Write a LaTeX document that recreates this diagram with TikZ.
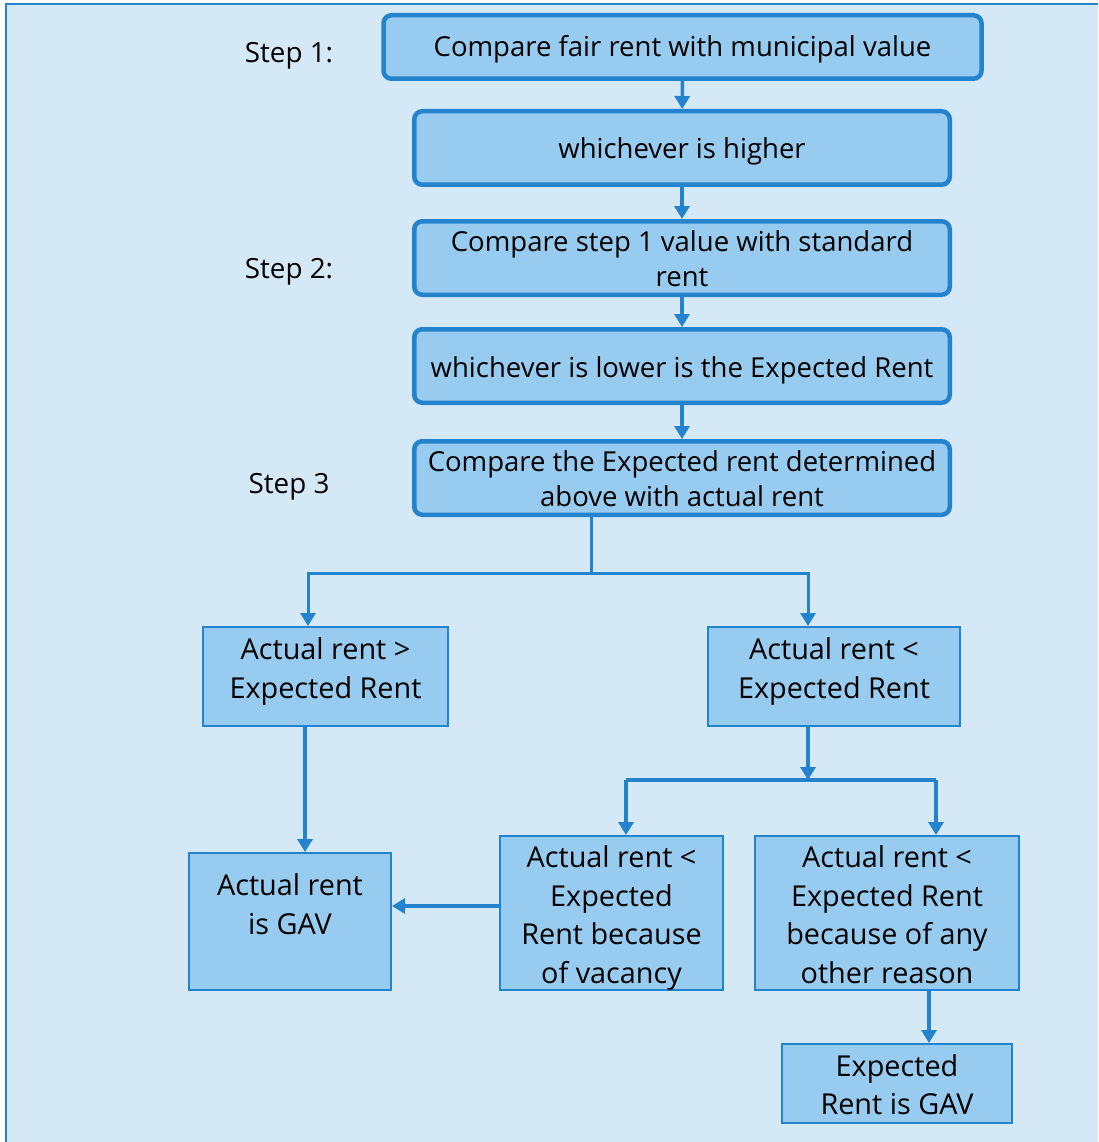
\documentclass[tikz,border=0pt]{standalone}
\usepackage{fontspec}
\setmainfont{Open Sans}
\usetikzlibrary{arrows.meta}
\definecolor{bg}{RGB}{212,232,246}
\definecolor{bx}{RGB}{151,203,239}
\definecolor{ln}{RGB}{35,131,204}
\newcommand\tup[2]{\raisebox{-#1pt}[\height][\depth]{\begin{tabular}{@{}c@{}}#2\end{tabular}}}
\begin{document}
\begin{tikzpicture}[x=1pt,y=-1pt,
  rbox/.style={draw=ln, fill=bx, line width=4.5pt, rounded corners=8pt, inner sep=0pt, font=\fontsize{27.5}{35}\selectfont},
  sbox/.style={draw=ln, fill=bx, line width=2pt, inner sep=0pt, font=\fontsize{28.8}{38.5}\selectfont},
  lbl/.style={font=\fontsize{27.8}{35}\selectfont, inner sep=0pt},
  conn/.style={draw=ln, line width=3.5pt, line join=miter},
  arr/.style={conn, -{Triangle[width=15pt,length=13pt]}},
]
\useasboundingbox (0,0) rectangle (1098,1142);
\fill[white] (0,0) rectangle (1098,1142);
\fill[bg] (6,4) rectangle (1098,1142);
\draw[ln, line width=1.5pt] (5,4) -- (1098,4);
\draw[ln, line width=2.5pt] (6,4) -- (6,1142);

% step labels
\node[lbl] (s1) at (289,55.5) {Step 1:};
\node[lbl] (s2) at (289,271.5) {Step 2:};
\node[lbl] (s3) at (289,486.5) {Step 3};

% rounded boxes
\node[rbox, minimum width=598, minimum height=63.5] (b1) at (682.5,47) {\tup{3}{Compare fair rent with municipal value}};
\node[rbox, minimum width=535.5, minimum height=73.5] (b2) at (682,148) {\tup{4}{whichever is higher}};
\node[rbox, minimum width=535.5, minimum height=73.5] (b3) at (682,258) {\tup{3.5}{Compare step 1 value with standard\\rent}};
\node[rbox, minimum width=535.5, minimum height=73.5] (b4) at (682,366) {\tup{4}{whichever is lower is the Expected Rent}};
\node[rbox, minimum width=535.5, minimum height=73.5] (b5) at (682,478) {\tup{4}{Compare the Expected rent determined\\above with actual rent}};

% square boxes
\node[sbox, minimum width=245, minimum height=99] (A) at (325.5,676.5) {\tup{-5}{Actual rent >\\Expected Rent}};
\node[sbox, minimum width=252, minimum height=99] (B) at (834,676.5) {\tup{-5}{Actual rent <\\Expected Rent}};
\node[sbox, minimum width=202, minimum height=137] (C) at (290,921.5) {\tup{-14}{Actual rent\\is GAV}};
\node[sbox, minimum width=223, minimum height=154] (D) at (611.5,913) {\tup{5}{Actual rent <\\Expected\\Rent because\\of vacancy}};
\node[sbox, minimum width=264, minimum height=154] (E) at (887,913) {\tup{5}{Actual rent <\\Expected Rent\\because of any\\other reason}};
\node[sbox, minimum width=230, minimum height=79] (F) at (897,1083.5) {\tup{4.5}{Expected\\Rent is GAV}};

% connectors top
\draw[arr] (b1) -- (b2);
\draw[arr] (b2) -- (b3);
\draw[arr] (b3) -- (b4);
\draw[arr] (b4) -- (b5);

% split from b5
\coordinate (s) at (591,573);
\coordinate (jl) at (308,573);
\coordinate (jr) at (808,573);
\draw[conn, line width=3pt] (b5.south -| s) -- (s);
\draw[arr, line width=3pt] (s) -- (jl) -- (jl |- A.north);
\draw[arr, line width=3pt] (s) -- (jr) -- (jr |- B.north);

% A -> C
\coordinate (xa) at (305,0);
\draw[arr] (A.south -| xa) -- (C.north -| xa);

% B -> split
\coordinate (m) at (808,780);
\coordinate (ml) at (626,780);
\coordinate (mr) at (936,780);
\draw[arr] (B.south -| m) -- (m);
\draw[conn] (ml) -- (mr);
\draw[arr] (ml) -- (ml |- D.north);
\draw[arr] (mr) -- (mr |- E.north);

% D -> C
\coordinate (hy) at (0,906);
\draw[arr] (D.west |- hy) -- (C.east |- hy);

% E -> F
\coordinate (xf) at (929,0);
\draw[arr] (E.south -| xf) -- (F.north -| xf);
\end{tikzpicture}
\end{document}
